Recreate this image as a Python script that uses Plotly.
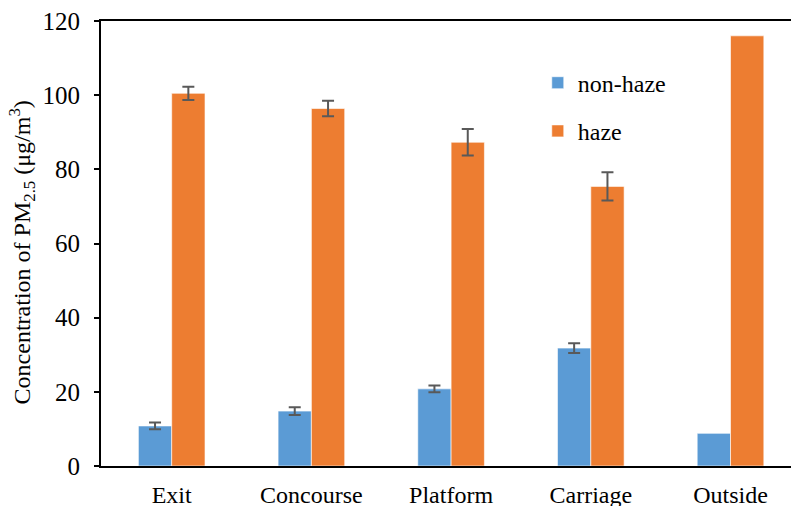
import plotly.graph_objects as go

# PM2.5 concentrations at subway locations, non-haze vs haze days
locations = ["Exit", "Concourse", "Platform", "Carriage", "Outside"]
non_haze = [10.8, 14.8, 20.8, 31.8, 8.8]
non_haze_err = [0.9, 1.05, 0.9, 1.3, None]
haze = [100.5, 96.4, 87.3, 75.4, 116.0]
haze_err = [1.8, 2.1, 3.6, 3.8, None]
y_ticks = [0, 20, 40, 60, 80, 100, 120]
y_title = "Concentration of PM<sub>2.5</sub> (μg/m<sup>3</sup>)"

FONT = "'Liberation Serif', 'DejaVu Serif', serif"
ERR_COLOR = "#595959"
COLORS = {"non-haze": "#5B9BD5", "haze": "#ED7D31"}

fig = go.Figure()
for name, vals, errs in [("non-haze", non_haze, non_haze_err),
                         ("haze", haze, haze_err)]:
    with_err = [i for i, e in enumerate(errs) if e is not None]
    no_err = [i for i, e in enumerate(errs) if e is None]
    marker = dict(color=COLORS[name], line=dict(color="rgba(255,255,255,0.6)", width=1))
    # bars carrying error bars
    fig.add_trace(go.Bar(
        name=name, x=[locations[i] for i in with_err], y=[vals[i] for i in with_err],
        marker=marker, offsetgroup=name, legendgroup=name,
        error_y=dict(type="data", array=[errs[i] for i in with_err], visible=True,
                     color=ERR_COLOR, thickness=2, width=6),
    ))
    # bars without error bars
    fig.add_trace(go.Bar(
        name=name, x=[locations[i] for i in no_err], y=[vals[i] for i in no_err],
        marker=marker, offsetgroup=name, legendgroup=name, showlegend=False,
    ))

# rotated y-axis title
fig.add_annotation(
    text=y_title, textangle=-90, xref="paper", yref="paper",
    x=-0.1145, y=0.48, xanchor="center", yanchor="middle", showarrow=False,
    font=dict(family=FONT, size=24, color="black"),
)

fig.update_layout(
    width=791, height=506,
    margin=dict(l=101, r=0, t=21, b=40, autoexpand=False),
    paper_bgcolor="white", plot_bgcolor="white",
    font=dict(family=FONT, size=24, color="black"),
    barmode="group", bargap=0.523, bargroupgap=0,
    showlegend=True,
    legend=dict(x=0.633, y=0.911, xanchor="left", yanchor="top",
                font=dict(family=FONT, size=24, color="black"),
                tracegroupgap=14, bgcolor="rgba(0,0,0,0)"),
    xaxis=dict(
        type="category", categoryorder="array", categoryarray=locations,
        range=[-0.506, 4.433], automargin=False,
        showline=True, linecolor="black", linewidth=2, mirror=True,
        ticks="", showgrid=False, zeroline=False,
        tickfont=dict(family=FONT, size=24, color="black"),
        ticklabelstandoff=6,
    ),
    yaxis=dict(
        range=[0, 120], tickvals=y_ticks, automargin=False,
        showline=True, linecolor="black", linewidth=2,
        ticks="outside", ticklen=5, tickwidth=1.5, tickcolor="black",
        showgrid=False, zeroline=False,
        tickfont=dict(family=FONT, size=25, color="black"),
        ticklabelstandoff=9,
    ),
)

fig.write_html("out.html")
